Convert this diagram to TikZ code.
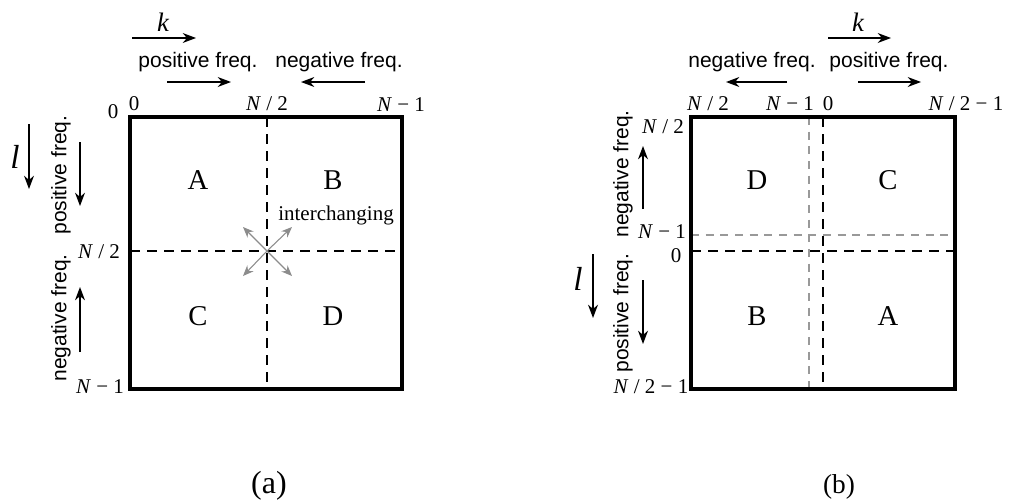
\documentclass[tikz,border=0pt]{standalone}
\usepackage{fontspec}
\setmainfont{Liberation Serif}
\setsansfont{Liberation Sans}
\usetikzlibrary{arrows.meta}
\newcommand{\NN}{\textit{N}}
\begin{document}
\begin{tikzpicture}[x=0.75pt,y=-0.75pt,
  lbl/.style={font=\fontsize{15.75}{18}\selectfont, inner sep=0pt, anchor=base},
  let/.style={font=\fontsize{21.5}{24}\selectfont, inner sep=0pt},
  sf/.style={font=\sffamily\fontsize{15.75}{18}\selectfont, inner sep=0pt},
  sfb/.style={sf, anchor=base},
  kk/.style={font=\itshape\fontsize{20}{23}\selectfont, inner sep=0pt, anchor=base},
  ll/.style={font=\itshape\fontsize{25}{28}\selectfont, inner sep=0pt, anchor=base},
  blk/.style={line width=1pt, -{Stealth[length=10pt,width=7.5pt]}},
  gar/.style={draw=black!45, line width=0.8pt, -{Stealth[length=8pt,width=6.5pt]}},
  frame/.style={line width=2.5pt, line join=miter},
  dsh/.style={line width=2pt, dash pattern=on 7.5pt off 5.25pt},
  gdsh/.style={draw=black!40, line width=1.2pt, dash pattern=on 6pt off 5pt}]
\useasboundingbox (0,0) rectangle (1020,500);

% ================= (a) =================
\coordinate (aTL) at (130,117);
\coordinate (aBR) at (402,389);
\coordinate (aVt) at (267,117);
\coordinate (aVb) at (267,389);
\coordinate (aHl) at (130,251);
\coordinate (aHr) at (402,251);
\draw[dsh] (aVt) -- (aVb);
\draw[dsh] (aHl) -- (aHr);
\draw[frame] (aTL) rectangle (aBR);

\node[kk] (ak) at (163,31) {k};
\coordinate (akS) at (132,38); \coordinate (akE) at (196,38);
\draw[blk] (akS) -- (akE);
\node[sfb] (apos) at (198,67) {positive freq.};
\node[sfb] (aneg) at (339,67) {negative freq.};
\coordinate (ap1) at (167,82); \coordinate (ap2) at (231,82);
\draw[blk] (ap1) -- (ap2);
\coordinate (an1) at (365,82); \coordinate (an2) at (301,82);
\draw[blk] (an1) -- (an2);

\node[lbl] (a0t) at (134,110) {0};
\node[lbl] (a0l) at (113,118) {0};
\node[lbl] (aN2t) at (267,110) {\NN\ / 2};
\node[lbl] (aN1t) at (401,111) {\NN\ − 1};

\node[ll] (al) at (15,168) {l};
\coordinate (al1) at (29,124); \coordinate (al2) at (29,189);
\draw[blk] (al1) -- (al2);
\node[sf, rotate=90] (alpos) at (61,175) {positive freq.};
\coordinate (alp1) at (80,142); \coordinate (alp2) at (80,206);
\draw[blk] (alp1) -- (alp2);
\node[sf, rotate=90] (alneg) at (61,318) {negative freq.};
\coordinate (aln1) at (80,352); \coordinate (aln2) at (80,287);
\draw[blk] (aln1) -- (aln2);
\node[lbl] (aN2l) at (99,258) {\NN\ / 2};
\node[lbl] (aN1l) at (100,393) {\NN\ − 1};

\node[let] (aA) at (198,180) {A};
\node[let] (aB) at (333,180) {B};
\node[let] (aC) at (198,316) {C};
\node[let] (aD) at (333,316) {D};

\coordinate (ac) at (267,251);
\coordinate (ag1) at (243,227); \coordinate (ag2) at (292,227);
\coordinate (ag3) at (243,276); \coordinate (ag4) at (292,276);
\draw[gar] (ac) -- (ag1);
\draw[gar] (ac) -- (ag2);
\draw[gar] (ac) -- (ag3);
\draw[gar] (ac) -- (ag4);
\node[lbl] (aint) at (336,220) {interchanging};

\node[font=\fontsize{24}{27}\selectfont, inner sep=0pt, anchor=base] (capa) at (269,493) {(a)};

% ================= (b) =================
\coordinate (bTL) at (691,117);
\coordinate (bBR) at (955,389);
\coordinate (bgVt) at (809,117); \coordinate (bgVb) at (809,389);
\coordinate (bgHl) at (691,235); \coordinate (bgHr) at (955,235);
\coordinate (bVt) at (823,117); \coordinate (bVb) at (823,389);
\coordinate (bHl) at (691,251); \coordinate (bHr) at (955,251);
\draw[gdsh] (bgVt) -- (bgVb);
\draw[gdsh] (bgHl) -- (bgHr);
\draw[dsh] (bVt) -- (bVb);
\draw[dsh] (bHl) -- (bHr);
\draw[frame] (bTL) rectangle (bBR);

\node[kk] (bk) at (858,31) {k};
\coordinate (bkS) at (828,38); \coordinate (bkE) at (891,38);
\draw[blk] (bkS) -- (bkE);
\node[sfb] (bneg) at (752,67) {negative freq.};
\node[sfb] (bpos) at (889,67) {positive freq.};
\coordinate (bn1) at (787,82); \coordinate (bn2) at (726,82);
\draw[blk] (bn1) -- (bn2);
\coordinate (bp1) at (858,82); \coordinate (bp2) at (921,82);
\draw[blk] (bp1) -- (bp2);

\node[lbl] (bN2t) at (708,110) {\NN\ / 2};
\node[lbl] (bN1t) at (790,110) {\NN\ − 1};
\node[lbl] (b0t) at (828,110) {0};
\node[lbl] (bN21t) at (966,110) {\NN\ / 2 − 1};

\node[lbl] (bN2l) at (663,133) {\NN\ / 2};
\node[lbl] (bN1l) at (662,238) {\NN\ − 1};
\node[lbl] (b0l) at (676,262) {0};
\node[lbl] (bN21l) at (651,393) {\NN\ / 2 − 1};

\node[sf, rotate=90] (blneg) at (623,174) {negative freq.};
\coordinate (bln1) at (643,209); \coordinate (bln2) at (643,146);
\draw[blk] (bln1) -- (bln2);
\node[ll] (bl) at (578,290) {l};
\coordinate (bl1) at (593,254); \coordinate (bl2) at (593,318);
\draw[blk] (bl1) -- (bl2);
\node[sf, rotate=90] (blpos) at (623,313) {positive freq.};
\coordinate (blp1) at (643,280); \coordinate (blp2) at (643,344);
\draw[blk] (blp1) -- (blp2);

\node[let] (bD) at (757,180) {D};
\node[let] (bC) at (888,180) {C};
\node[let] (bB) at (757,316) {B};
\node[let] (bA) at (888,316) {A};

\node[font=\fontsize{20.5}{23}\selectfont, inner sep=0pt, anchor=base] (capb) at (839,493) {(b)};
\end{tikzpicture}
\end{document}
